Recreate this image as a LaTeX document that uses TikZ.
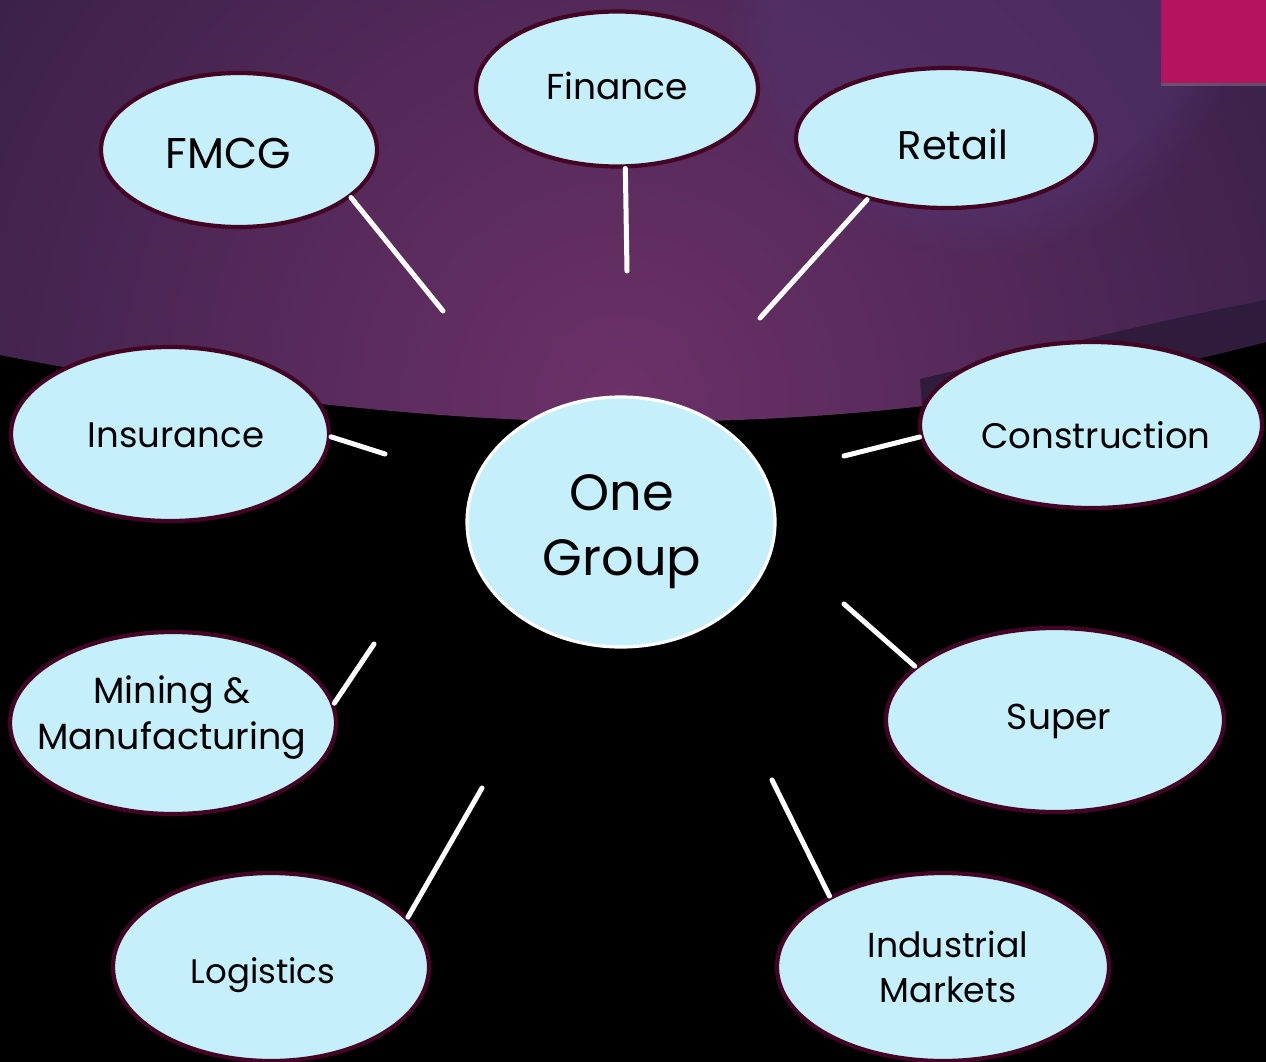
\documentclass[tikz,border=0pt]{standalone}
\usepackage{fontspec}
\setmainfont{Poppins}
\usetikzlibrary{shapes.geometric,shadows,fadings}
\definecolor{bubblefill}{HTML}{C5EFFA}
\definecolor{bubbleedge}{HTML}{440424}
\definecolor{accent}{HTML}{B5135F}
\definecolor{skyinner}{HTML}{6C3168}
\definecolor{skyouter}{HTML}{3A2149}
\definecolor{skyband}{HTML}{2F1B3B}
\definecolor{skyglow}{HTML}{523472}
\newcommand\bubfont[2]{\fontsize{#1pt}{#2pt}\selectfont}
\begin{document}
\begin{tikzpicture}[x=1pt,y=-1pt,
  bubble/.style={ellipse, draw=bubbleedge, line width=4.2pt, fill=bubblefill, inner sep=0pt},
  hub/.style={bubble, draw=white, line width=3.2pt},
  lbl/.style={anchor=base, align=center, inner sep=0pt, text=black},
  spoke/.style={draw=white, line width=5pt, line cap=round}]

% backdrop
\useasboundingbox (0,0) rectangle (1266,1062);
\fill[black] (0,0) rectangle (1266,1062);
\begin{scope}
  \clip (0,0) -- (1266,0) -- (1266,342)
    .. controls (1000,410) and (800,422) .. (620,422)
    .. controls (400,422) and (150,385) .. (0,355) -- cycle;
  \shade[inner color=skyinner, outer color=skyouter] (620,400) circle (760);
  \fill[skyglow, opacity=0.5, path fading=circle with fuzzy edge 20 percent]
    (980,0) circle (260);
  \fill[skyband]
    (920,379) .. controls (1050,348) and (1150,322) .. (1266,300)
    -- (1266,342) .. controls (1150,372) and (1000,400) .. (922,406) -- cycle;
\end{scope}
\fill[accent, drop shadow={shadow xshift=0pt, shadow yshift=-3pt, opacity=0.5}]
  (1161,0) rectangle (1266,83);

% bubbles
\node[hub, minimum width=308pt, minimum height=250pt] (hubnode) at (621,522) {};
\node[bubble, minimum width=276pt, minimum height=154pt] (fmcg) at (239,150) {};
\node[bubble, minimum width=282pt, minimum height=155pt] (finance) at (617,89) {};
\node[bubble, minimum width=300pt, minimum height=140pt] (retail) at (946,138) {};
\node[bubble, minimum width=318pt, minimum height=174pt] (insurance) at (170,434) {};
\node[bubble, minimum width=342pt, minimum height=166pt] (construction) at (1091,425) {};
\node[bubble, minimum width=326pt, minimum height=182pt] (mining) at (173,723) {};
\node[bubble, minimum width=338pt, minimum height=184pt] (super) at (1055,720) {};
\node[bubble, minimum width=316pt, minimum height=188pt] (logistics) at (271,967) {};
\node[bubble, minimum width=332pt, minimum height=188pt] (industrial) at (943,967) {};

% labels (a two-line label sits on the baseline of its last line)
\node[lbl, font=\bubfont{51}{65}] (hub-t) at (622,575) {One\\Group};
\node[lbl, font=\bubfont{43}{48}] (fmcg-t) at (228,168) {FMCG};
\node[lbl, font=\bubfont{36}{44}] (finance-t) at (617,100) {Finance};
\node[lbl, font=\bubfont{40}{44}] (retail-t) at (953,160) {Retail};
\node[lbl, font=\bubfont{35.5}{44}] (insurance-t) at (176,447) {Insurance};
\node[lbl, font=\bubfont{35.5}{44}] (construction-t) at (1096,448) {Construction};
\node[lbl, font=\bubfont{36.5}{46}] (mining-t) at (172,749) {Mining \&\\Manufacturing};
\node[lbl, font=\bubfont{36}{44}] (super-t) at (1059,729) {Super};
\node[lbl, font=\bubfont{34}{44}] (logistics-t) at (263,983) {Logistics};
\node[lbl, font=\bubfont{34.7}{45}] (industrial-t) at (948,1002) {Industrial\\Markets};

% free ends of the spokes
\coordinate (fmcg-end) at (443,311);
\coordinate (finance-end) at (627,271);
\coordinate (retail-end) at (760,318);
\coordinate (insurance-end) at (385,454);
\coordinate (construction-end) at (844,456);
\coordinate (mining-end) at (374,644);
\coordinate (super-end) at (844,604);
\coordinate (logistics-end) at (482,788);
\coordinate (industrial-end) at (772,780);

% spokes
\draw[spoke] (fmcg.-23) -- (fmcg-end);
\draw[spoke] (finance.-84) -- (finance-end);
\draw[spoke] (retail.218) -- (retail-end);
\draw[spoke] (insurance.-1.4) -- (insurance-end);
\draw[spoke] (construction.184) -- (construction-end);
\draw[spoke] (mining.7.4) -- (mining-end);
\draw[spoke] (super.159.4) -- (super-end);
\draw[spoke] (logistics.20.5) -- (logistics-end);
\draw[spoke] (industrial.148) -- (industrial-end);
\end{tikzpicture}
\end{document}
